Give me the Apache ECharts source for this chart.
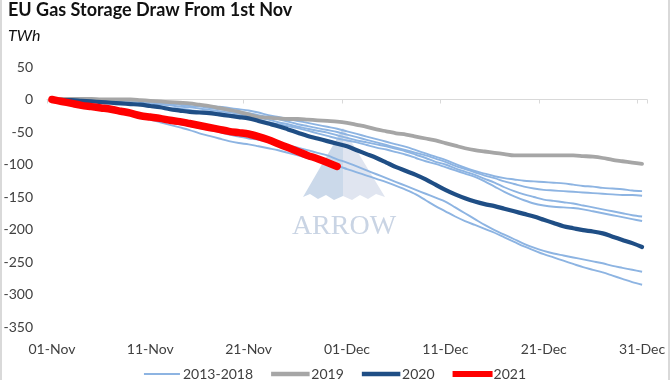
<!DOCTYPE html>
<html>
<head>
<meta charset="utf-8">
<script src="https://cdn.jsdelivr.net/npm/echarts@6/dist/echarts.min.js"></script>
<style>html,body{margin:0;padding:0;background:#fff}#c{width:670px;height:380px}</style>
</head>
<body>
<div id="c"></div>
<script>
// Dates: 01-Nov .. 31-Dec
var months = ['Nov', 'Dec'];
var daysInMonth = [30, 31];
var categories = [];
for (var m = 0; m < 2; m++) {
  for (var d = 1; d <= daysInMonth[m]; d++) {
    categories.push((d < 10 ? '0' : '') + d + '-' + months[m]);
  }
}
var yTicks = [-350, -300, -250, -200, -150, -100, -50, 0, 50];
var legendNames = ['2013-2018', '2019', '2020', '2021'];

// 2013-2018 (six years)
var hist1 = [0,0,1,1,1,0,0,-1,-1,-2,-3,-4,-5,-6,-7,-8,-10,-11,-13,-15,-17,-20,-24,-27,-30,-33,-36,-39,-42,-45,-49,-53,-57,-61,-65,-69,-73,-78,-83,-88,-93,-99,-105,-110,-114,-118,-121,-123,-125,-126,-127,-128,-129,-131,-133,-134,-136,-137,-138,-140,-141];
var hist2 = [0,0,0,0,-1,-1,-2,-2,-3,-4,-5,-6,-7,-8,-10,-11,-13,-15,-17,-19,-21,-24,-27,-30,-34,-38,-41,-44,-47,-50,-54,-58,-62,-66,-70,-74,-78,-82,-86,-91,-96,-102,-107,-112,-117,-121,-126,-130,-134,-137,-139,-140,-141,-142,-143,-144,-145,-146,-147,-147,-148];
var hist3 = [0,0,-1,-1,-2,-3,-3,-4,-5,-6,-7,-8,-9,-11,-12,-14,-16,-18,-20,-22,-25,-28,-31,-35,-38,-42,-45,-48,-51,-55,-59,-63,-66,-69,-72,-76,-80,-85,-90,-96,-100,-106,-111,-116,-122,-128,-135,-141,-146,-150,-154,-156,-158,-160,-163,-166,-169,-172,-175,-178,-180];
var hist4 = [0,-1,-1,-2,-3,-4,-5,-6,-7,-8,-9,-11,-13,-14,-16,-18,-19,-21,-23,-25,-28,-31,-35,-38,-41,-44,-48,-52,-56,-60,-63,-66,-70,-74,-77,-81,-85,-90,-95,-99,-104,-109,-114,-119,-126,-134,-142,-149,-155,-160,-163,-165,-166,-167,-169,-172,-175,-178,-181,-184,-187];
var hist5 = [0,-2,-4,-7,-10,-13,-16,-19,-22,-26,-29,-32,-35,-38,-41,-44,-47,-50,-54,-57,-60,-62,-65,-68,-71,-74,-78,-82,-86,-92,-97,-103,-109,-115,-121,-127,-133,-139,-145,-151,-157,-166,-175,-184,-193,-201,-208,-215,-222,-228,-233,-237,-240,-243,-246,-249,-252,-256,-259,-262,-265];
var hist6 = [0,-3,-6,-9,-12,-15,-18,-21,-24,-28,-31,-35,-39,-43,-47,-52,-56,-60,-64,-67,-69,-72,-75,-78,-82,-86,-90,-94,-98,-102,-107,-112,-117,-122,-127,-133,-139,-146,-155,-164,-172,-180,-187,-193,-199,-205,-212,-219,-226,-232,-238,-243,-248,-253,-258,-262,-266,-271,-276,-281,-285];
var y2019 = [0,1,1,1,1,0,0,0,0,-1,-2,-3,-4,-5,-6,-8,-10,-13,-16,-19,-23,-27,-28,-29,-30,-30,-31,-32,-33,-34,-36,-39,-42,-46,-49,-52,-54,-57,-60,-63,-67,-71,-75,-78,-80,-82,-84,-86,-86,-86,-86,-86,-86,-86,-87,-88,-90,-93,-95,-97,-99];
var y2020 = [0,-1,-1,-2,-3,-4,-5,-6,-7,-8,-10,-12,-15,-17,-19,-20,-21,-23,-25,-27,-29,-33,-37,-41,-46,-51,-56,-60,-64,-68,-72,-78,-84,-90,-97,-104,-110,-116,-123,-131,-139,-146,-152,-157,-161,-164,-168,-172,-176,-180,-185,-190,-195,-198,-201,-203,-206,-211,-216,-221,-227];
var y2021 = [0,-3,-6,-9,-11,-13,-15,-18,-21,-25,-27,-29,-32,-34,-37,-40,-43,-46,-49,-51,-53,-57,-62,-68,-74,-80,-86,-91,-97,-103];

var histSeries = [hist1, hist2, hist3, hist4, hist5, hist6];

var FONT = 'Lato, "Liberation Sans", sans-serif';
var COLORS = { '2013-2018': '#8db4e2', '2019': '#a6a6a6', '2020': '#1f4e85', '2021': '#ff0000' };
var LEGEND_BORDER = { '2013-2018': 0, '2019': 2.5, '2020': 2.5, '2021': 4 };
var series = [];
histSeries.forEach(function (arr) {
  series.push({
    name: '2013-2018', type: 'line', data: arr, symbol: 'none', smooth: 0.3,
    lineStyle: { color: COLORS['2013-2018'], width: 1.9 }, itemStyle: { color: COLORS['2013-2018'] }, z: 2
  });
});
series.push({ name: '2019', type: 'line', data: y2019, symbol: 'none', smooth: 0.3,
  lineStyle: { color: COLORS['2019'], width: 3.8, cap: 'round' }, itemStyle: { color: COLORS['2019'] }, z: 3 });
series.push({ name: '2020', type: 'line', data: y2020, symbol: 'none', smooth: 0.3,
  lineStyle: { color: COLORS['2020'], width: 4.2, cap: 'round' }, itemStyle: { color: COLORS['2020'] }, z: 4 });
series.push({ name: '2021', type: 'line', data: y2021, symbol: 'none', smooth: 0.3,
  lineStyle: { color: COLORS['2021'], width: 7.5, cap: 'round', join: 'round' }, itemStyle: { color: COLORS['2021'] }, z: 5 });

var chart = echarts.init(document.getElementById('c'), null, { renderer: 'canvas' });
chart.setOption({
  animation: false,
  backgroundColor: '#ffffff',
  title: [
    { text: 'EU Gas Storage Draw From 1st Nov', left: 8, top: 1, padding: 0,
      textStyle: { fontFamily: FONT, fontSize: 18, fontWeight: 'bold', color: '#111' } },
    { text: 'TWh', left: 8, top: 28, padding: 0,
      textStyle: { fontFamily: FONT, fontSize: 16, fontStyle: 'italic', fontWeight: 'normal', color: '#111' } }
  ],
  legend: {
    data: legendNames.map(function (n) {
      return { name: n, icon: 'rect',
        itemStyle: { color: COLORS[n], borderColor: COLORS[n], borderWidth: LEGEND_BORDER[n] } };
    }),
    top: 362, left: 'center', itemWidth: 36, itemHeight: 2, itemGap: 18,
    textStyle: { fontFamily: FONT, fontSize: 14, color: '#404040', padding: [0, 0, 0, -2] }
  },
  grid: { left: 47, right: 23, top: 67, bottom: 53, containLabel: false, outerBoundsMode: 'none' },
  xAxis: [
    {
      type: 'category', data: categories, boundaryGap: true, position: 'bottom',
      axisLine: { show: false, onZero: false },
      axisTick: { show: false },
      axisLabel: { interval: 9, margin: 15, fontFamily: FONT, fontSize: 14, color: '#404040', hideOverlap: false },
      splitLine: { show: false }
    },
    {
      type: 'category', data: categories, boundaryGap: true, position: 'top',
      axisLine: { show: true, onZero: true, lineStyle: { color: '#d9d9d9', width: 1 } },
      axisTick: { show: true, inside: true, interval: 9, length: 4, lineStyle: { color: '#d9d9d9' } },
      axisLabel: { show: false },
      splitLine: { show: false }
    }
  ],
  yAxis: {
    type: 'value', min: yTicks[0], max: yTicks[yTicks.length - 1], interval: 50,
    axisLine: { show: false }, axisTick: { show: false }, splitLine: { show: false },
    axisLabel: { margin: 14, fontFamily: FONT, fontSize: 14, color: '#404040' }
  },
  graphic: [
    { type: 'rect', shape: { x: 0, y: 0, width: 2, height: 380 }, style: { fill: '#d9d9d9' }, z: 0 },
    { type: 'rect', shape: { x: 668, y: 0, width: 2, height: 380 }, style: { fill: '#d9d9d9' }, z: 0 },
    { type: 'polygon', shape: { points: [[343,128],[343,196],[334,200],[326,195],[318,199],[310,194],[303,197]] },
      style: { fill: '#cbd9ea' }, z: 0 },
    { type: 'polygon', shape: { points: [[343,128],[385,197],[376,194],[368,199],[360,195],[352,200],[343,196]] },
      style: { fill: '#e0e5f0' }, z: 0 },
    { type: 'text', x: 344, y: 227, style: { text: 'ARROW', fill: '#c9d4e4', font: '28px "Liberation Serif", serif',
      textAlign: 'center', textVerticalAlign: 'middle' }, z: 0 }
  ],
  series: series
});
</script>
</body>
</html>
